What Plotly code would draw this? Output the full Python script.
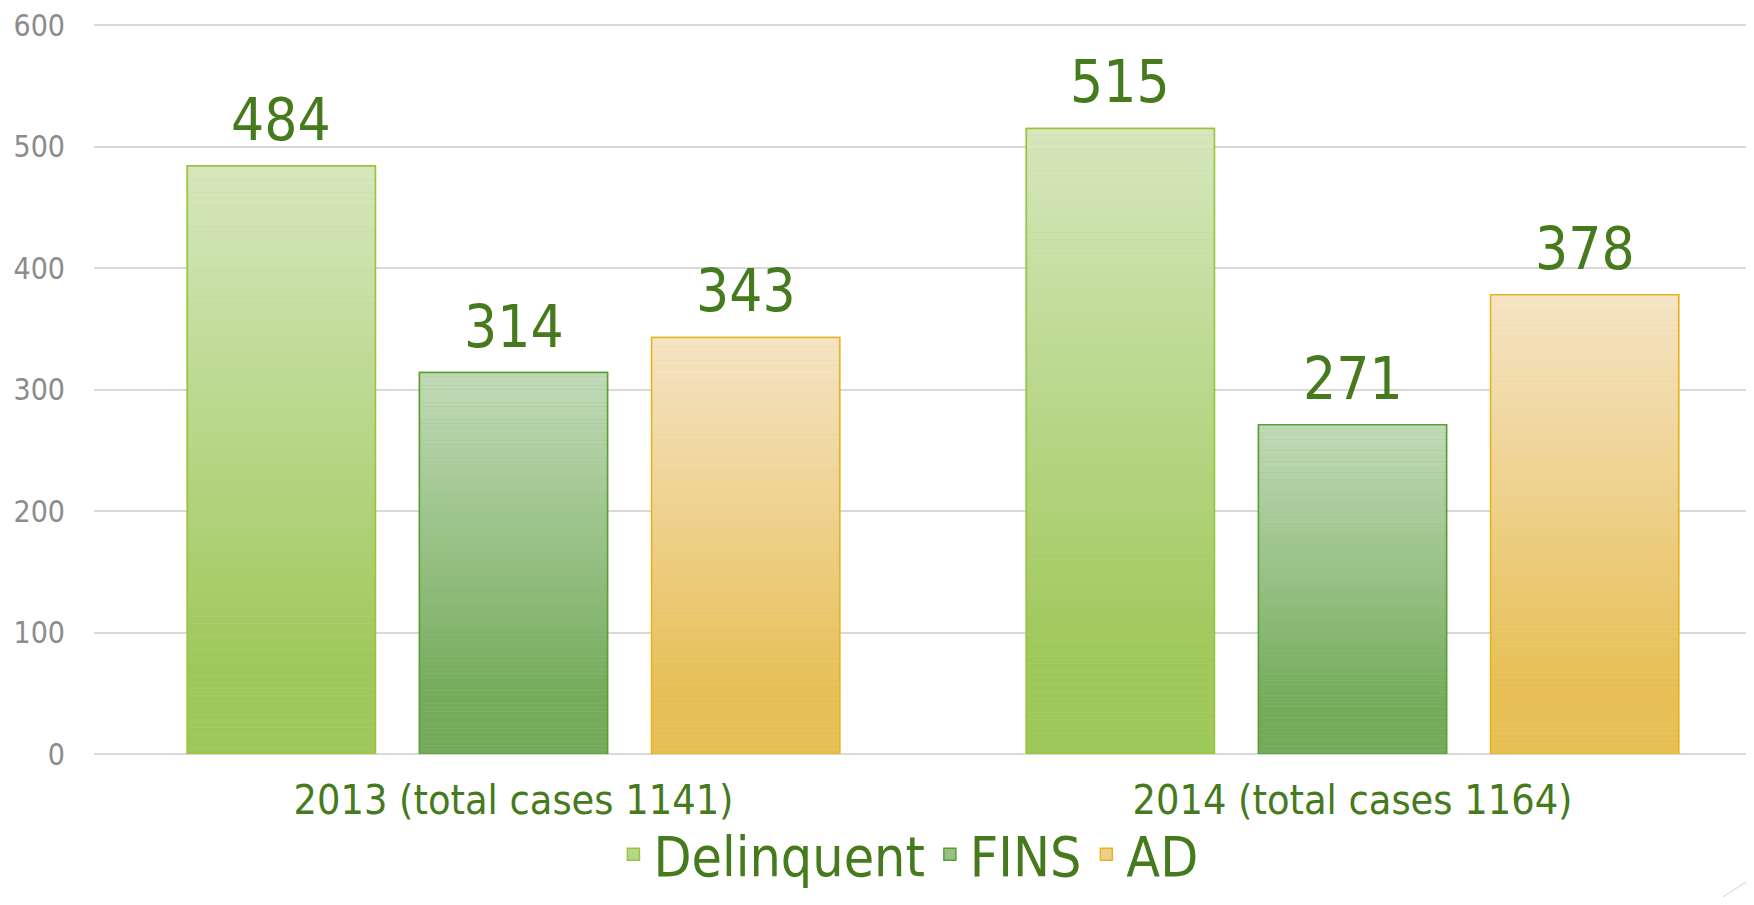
import plotly.graph_objects as go

categories = ["2013 (total cases 1141)", "2014 (total cases 1164)"]
series_names = ["Delinquent", "FINS", "AD"]
delinquent = [484, 515]
fins = [314, 271]
ad = [343, 378]
values = {"Delinquent": delinquent, "FINS": fins, "AD": ad}

y_ticks = [0, 100, 200, 300, 400, 500, 600]

# style (top colour, bottom colour, outline)
styles = {
    "Delinquent": ("#d6e7be", "#9fc85a", "#98c43a"),
    "FINS": ("#c2dab8", "#73ab5a", "#5c9e34"),
    "AD": ("#f5e4c6", "#e7bf55", "#e6b420"),
}
TEXT_GREEN = "#457a1d"
FONT = "Liberation Sans Narrow, DejaVu Sans Condensed, Arial Narrow, sans-serif"

# page body has an 8px margin, so the figure is sized to fit the window without scrollbars
W, H = 1738, 889
ML, MR, MT, MB = 86, 0, 16, 143
X_RANGE = [-0.5, 1.469]
BARGAP, BARGROUPGAP = 0.17, 0.19


def hex2rgb(h):
    h = h.lstrip("#")
    return tuple(int(h[i:i + 2], 16) for i in (0, 2, 4))


def lerp(c1, c2, t):
    a, b = hex2rgb(c1), hex2rgb(c2)
    return "rgb(%d,%d,%d)" % tuple(round(a[i] + (b[i] - a[i]) * t) for i in range(3))


N = 90
fig = go.Figure()
for name in series_names:
    top, bottom, outline = styles[name]
    vals = values[name]
    fig.add_trace(go.Bar(
        x=categories, y=vals, name=name, offsetgroup=name, legendgroup=name,
        marker=dict(color=lerp(top, bottom, 0.55), line=dict(color=outline, width=1.5)),
        showlegend=True, hoverinfo="skip",
    ))
    for k in range(N):
        t_from_top = 1 - (k + 0.5) / N
        col = lerp(top, bottom, min(1.0, t_from_top / 0.85))
        fig.add_trace(go.Bar(
            x=categories, y=[v / N for v in vals], base=[v * k / N for v in vals],
            offsetgroup=name, legendgroup=name, showlegend=False,
            marker=dict(color=col, line=dict(width=0)), hoverinfo="skip",
        ))
    fig.add_trace(go.Bar(
        x=categories, y=vals, offsetgroup=name, legendgroup=name, showlegend=False,
        marker=dict(color="rgba(0,0,0,0)", line=dict(color=outline, width=1.5)),
        hoverinfo="skip",
    ))

# value labels placed over each bar (offset follows the group layout)
unit_px = (W - ML - MR) / (X_RANGE[1] - X_RANGE[0])
slot_px = unit_px * (1 - BARGAP) / len(series_names)
annotations = []
for i, name in enumerate(series_names):
    for cat, v in zip(categories, values[name]):
        annotations.append(dict(
            x=cat, y=v, xref="x", yref="y", text=str(v), showarrow=False,
            xanchor="center", yanchor="bottom", yshift=10,
            xshift=(i - (len(series_names) - 1) / 2) * slot_px,
            font=dict(size=58, color=TEXT_GREEN, family=FONT),
        ))

plot_h = H - MT - MB
fig.update_layout(
    width=W, height=H,
    margin=dict(l=ML, r=MR, t=MT, b=MB, autoexpand=False),
    paper_bgcolor="white", plot_bgcolor="white",
    barmode="group", bargap=BARGAP, bargroupgap=BARGROUPGAP,
    font=dict(family=FONT),
    showlegend=True,
    legend=dict(
        orientation="h", x=0.493, xanchor="center", y=-MB / plot_h, yanchor="bottom",
        font=dict(size=55, color=TEXT_GREEN, family=FONT),
        bgcolor="rgba(0,0,0,0)",
    ),
    xaxis=dict(
        range=X_RANGE, showgrid=False, showline=False, zeroline=False, automargin=False,
        ticks="", tickfont=dict(size=41, color=TEXT_GREEN, family=FONT),
        ticklabelstandoff=18,
    ),
    yaxis=dict(
        range=[0, 601], tickvals=y_ticks, showgrid=True, gridcolor="#d9d9d9", gridwidth=1.5,
        zeroline=True, zerolinecolor="#d9d9d9", zerolinewidth=1.5, showline=False,
        automargin=False, ticklabeloverflow="allow",
        tickfont=dict(size=30, color="#8c8c8c", family=FONT),
        ticks="", ticklabelstandoff=28,
    ),
    annotations=annotations,
    shapes=[dict(type="line", xref="paper", yref="paper", x0=0.986, y0=-MB / plot_h, x1=1.0,
                 y1=-(MB - 15) / plot_h, line=dict(color="#d0d0d0", width=1))],
)

fig.write_html("out.html")
